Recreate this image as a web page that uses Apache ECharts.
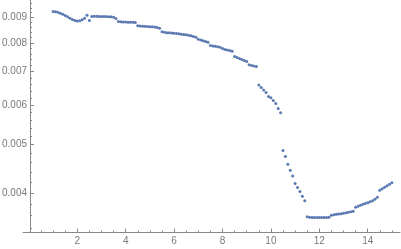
<!DOCTYPE html>
<html>
<head>
<meta charset="utf-8">
<script src="https://cdn.jsdelivr.net/npm/echarts@6/dist/echarts.min.js"></script>
<style>
html,body{margin:0;padding:0;background:#fff;}
#chart{width:401px;height:249px;}
</style>
</head>
<body>
<div id="chart"></div>
<script>
const xValues = [1.0,1.1,1.2,1.3,1.4,1.5,1.6,1.7,1.8,1.9,2.0,2.1,2.2,2.3,2.4,2.5,2.6,2.7,2.8,2.9,
3.0,3.1,3.2,3.3,3.4,3.5,3.6,3.7,3.8,3.9,4.0,4.1,4.2,4.3,4.4,4.5,4.6,4.7,4.8,4.9,
5.0,5.1,5.2,5.3,5.4,5.5,5.6,5.7,5.8,5.9,6.0,6.1,6.2,6.3,6.4,6.5,6.6,6.7,6.8,6.9,
7.0,7.1,7.2,7.3,7.4,7.5,7.6,7.7,7.8,7.9,8.0,8.1,8.2,8.3,8.4,8.5,8.6,8.7,8.8,8.9,
9.0,9.1,9.2,9.3,9.4,9.5,9.6,9.7,9.8,9.9,10.0,10.1,10.2,10.3,10.4,10.5,10.6,10.7,10.8,10.9,
11.0,11.1,11.2,11.3,11.4,11.5,11.6,11.7,11.8,11.9,12.0,12.1,12.2,12.3,12.4,12.5,12.6,12.7,12.8,12.9,
13.0,13.1,13.2,13.3,13.4,13.5,13.6,13.7,13.8,13.9,14.0,14.1,14.2,14.3,14.4,14.5,14.6,14.7,14.8,14.9,15.0];

const yValues = [0.009245,0.009232,0.009211,0.009168,0.009126,0.009075,0.009021,0.008958,0.008909,0.008868,
0.008847,0.008856,0.008897,0.008958,0.009084,0.008868,0.009033,0.009042,0.009042,0.009038,
0.009038,0.009033,0.009033,0.009029,0.009021,0.009004,0.008950,0.008827,0.008815,0.008807,
0.008807,0.008802,0.008798,0.008794,0.008786,0.008653,0.008645,0.008637,0.008633,0.008625,
0.008621,0.008613,0.008605,0.008585,0.008558,0.008416,0.008397,0.008385,0.008378,0.008370,
0.008362,0.008350,0.008339,0.008323,0.008312,0.008300,0.008281,0.008262,0.008235,0.008205,
0.008130,0.008103,0.008073,0.008047,0.008017,0.007900,0.007882,0.007871,0.007856,0.007834,
0.007791,0.007755,0.007737,0.007719,0.007691,0.007508,0.007473,0.007439,0.007404,0.007370,
0.007336,0.007225,0.007202,0.007185,0.007169,0.006581,0.006511,0.006431,0.006357,0.006240,
0.006206,0.006126,0.006047,0.005909,0.005790,0.004866,0.004733,0.004563,0.004442,0.004325,
0.004177,0.004102,0.004025,0.003939,0.003858,0.003583,0.003574,0.003571,0.003569,0.003569,
0.003569,0.003569,0.003569,0.003571,0.003574,0.003608,0.003616,0.003624,0.003628,0.003633,
0.003641,0.003650,0.003658,0.003667,0.003675,0.003744,0.003761,0.003778,0.003796,0.003808,
0.003822,0.003840,0.003858,0.003885,0.003921,0.004050,0.004078,0.004106,0.004135,0.004164,0.004193];

const xMajorTicks = [2,4,6,8,10,12,14];
const xMinorTicks = [0.5,1,1.5,2.5,3,3.5,4.5,5,5.5,6.5,7,7.5,8.5,9,9.5,10.5,11,11.5,12.5,13,13.5,14.5,15];
const yMajorTicks = [0.004,0.005,0.006,0.007,0.008,0.009];
const yMinorTicks = [0.0034,0.0036,0.0038,0.0042,0.0044,0.0046,0.0048,0.0052,0.0054,0.0056,0.0058,
0.0062,0.0064,0.0066,0.0068,0.0072,0.0074,0.0076,0.0078,0.0082,0.0084,0.0086,0.0088,0.0092,0.0094,0.0096];

const points = xValues.map((x, i) => [x, yValues[i]]);

const axisColor = '#888888';
const labelColor = '#7a7a7a';
const fontFamily = 'Liberation Sans, Arial, sans-serif';
const X_MIN = -0.244, X_MAX = 15.335, Y_MIN = 0.00333, Y_MAX = 0.00975;
const Y_AXIS_SHIFT = -7;

const chart = echarts.init(document.getElementById('chart'), null, {renderer: 'canvas'});
chart.setOption({
  animation: false,
  backgroundColor: '#ffffff',
  grid: {left: 23, right: 1, top: 0, bottom: 16.5, containLabel: false, outerBoundsMode: 'none'},
  xAxis: [
    {
      type: 'value', min: X_MIN, max: X_MAX, position: 'bottom',
      axisLine: {show: true, onZero: false, lineStyle: {color: axisColor, width: 1}},
      axisTick: {show: true, inside: true, length: 4, customValues: xMajorTicks, lineStyle: {color: axisColor}},
      axisLabel: {show: true, customValues: xMajorTicks, color: labelColor, fontSize: 10, fontFamily: fontFamily, margin: 4},
      splitLine: {show: false}
    },
    {
      type: 'value', min: X_MIN, max: X_MAX, position: 'bottom',
      axisLine: {show: false, onZero: false},
      axisTick: {show: true, inside: true, length: 2, customValues: xMinorTicks, lineStyle: {color: axisColor}},
      axisLabel: {show: false},
      splitLine: {show: false}
    }
  ],
  yAxis: [
    {
      type: 'log', min: Y_MIN, max: Y_MAX, position: 'left', offset: Y_AXIS_SHIFT,
      axisLine: {show: true, onZero: false, lineStyle: {color: axisColor, width: 1}},
      axisTick: {show: true, inside: true, length: 4, customValues: yMajorTicks, lineStyle: {color: axisColor}},
      axisLabel: {show: true, customValues: yMajorTicks, color: labelColor, fontSize: 10, fontFamily: fontFamily, margin: 3,
        formatter: v => Number(v).toFixed(3)},
      splitLine: {show: false}
    },
    {
      type: 'log', min: Y_MIN, max: Y_MAX, position: 'left', offset: Y_AXIS_SHIFT,
      axisLine: {show: false, onZero: false},
      axisTick: {show: true, inside: true, length: 2, customValues: yMinorTicks, lineStyle: {color: axisColor}},
      axisLabel: {show: false},
      splitLine: {show: false}
    }
  ],
  series: [{
    type: 'scatter',
    xAxisIndex: 0, yAxisIndex: 0,
    data: points,
    symbol: 'circle',
    symbolSize: 3,
    itemStyle: {color: '#5a79b0', opacity: 1},
    silent: true
  }]
});
</script>
</body>
</html>
